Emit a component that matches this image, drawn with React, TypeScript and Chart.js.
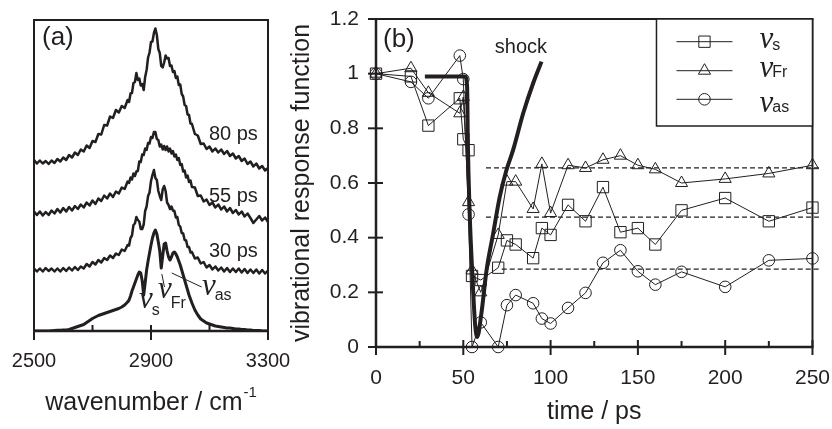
import React, { useEffect, useRef } from 'react';
import { Chart, registerables } from 'chart.js';

Chart.register(...registerables);

const INK = '#231f20';
const SANS = '"Liberation Sans", Arial, Helvetica, sans-serif';
const SERIF = '"Liberation Serif", "Times New Roman", serif';

// ---------------- Panel (a): IR spectra ----------------
const WAVENUMBERS = [
  2500, 2510, 2520, 2530, 2540, 2550, 2560, 2570, 2580, 2590, 2600,
  2610, 2620, 2630, 2640, 2650, 2660, 2670, 2680, 2690, 2700, 2710,
  2720, 2730, 2740, 2750, 2760, 2770, 2780, 2790, 2800, 2810, 2820,
  2825, 2830, 2835, 2840, 2845, 2850, 2855, 2860, 2865, 2870, 2875,
  2880, 2885, 2890, 2895, 2900, 2905, 2910, 2915, 2920, 2925, 2930,
  2935, 2940, 2945, 2950, 2955, 2960, 2965, 2970, 2975, 2980, 2985,
  2990, 2995, 3000, 3005, 3010, 3015, 3020, 3025, 3030, 3035, 3040,
  3050, 3060, 3070, 3080, 3090, 3100, 3110, 3120, 3130, 3140, 3150, 3160, 3170,
  3180, 3190, 3200, 3210, 3220, 3230, 3240, 3250, 3260, 3270, 3280, 3290, 3300,
];

const SPEC_STEADY = [
  0, 0, 0, 0, 0, 0, 0.3, 0.5, 0.7, 0.8, 1,
  1, 1.5, 2.5, 3.5, 4.5, 5.5, 6.5, 8.5, 10.5, 12.5, 14,
  15.5, 16.5, 17.5, 18.5, 19.5, 20.5, 21.5, 22.5, 24, 26, 29,
  31, 35, 40, 44, 48, 52, 56, 59, 58, 50, 36,
  48, 61, 70, 78, 86, 93, 98, 101, 97, 89, 80,
  63, 75, 87, 88, 80, 74, 71, 74, 78, 79, 77,
  74, 70, 66, 61, 56, 51, 46, 41, 36, 32, 28,
  21, 16, 12, 10, 8, 7, 6, 5, 4.5, 4, 3.5, 3, 3,
  2.5, 2, 2, 1.5, 1.5, 1, 1, 0.5, 0.5, 0.5, 0, 0, 0,
];

const SPEC_30PS = [
  2.5, -0.5, 2.5, -0.5, 3, 0, 2.5, -0.5, 2.5, -0.5, 3,
  0, 3.5, 0.5, 4, 1, 4.5, 2.5, 7, 4.5, 9, 6.5,
  11, 8.5, 13, 11, 15.5, 13, 17.5, 16, 21.5, 20, 26,
  25.5, 33, 35.5, 46, 47.5, 54, 51, 49.5, 42, 42, 46.5,
  60, 64.5, 75, 78.5, 90, 96, 101, 93, 91, 80, 75,
  71, 81.5, 85, 80, 68.5, 66, 62, 64.5, 60.5, 60, 53.5,
  54, 46, 44.5, 38, 37.5, 31, 30.5, 24, 24, 18.5, 19,
  12.5, 13.5, 7.5, 9, 3.5, 6, 1.5, 4.5, 0.5, 3.5, -0.5, 3, -1,
  2.5, -1, 2.5, -1.5, 2, -2, 1.5, -2, 1.5, -2.5, 1, -2.5, 0.5,
];

const SPEC_55PS = [
  4.5, 1, 4.5, 0.5, 4, 1, 5.5, 2.5, 7, 3.5, 8,
  4.5, 9, 5.5, 10, 7, 11.5, 8.5, 13.5, 10.5, 15.5, 12,
  17.5, 15, 20.5, 17.5, 22.5, 19, 24.5, 22.5, 28.5, 27, 34.5,
  33, 38.5, 36.5, 42.5, 40, 44.5, 45, 54.5, 54, 61.5, 61,
  67.5, 66, 73, 72.5, 79, 78, 84, 84, 77, 76, 69.5,
  71.5, 66.5, 70, 66, 69.5, 64.5, 67.5, 62.5, 65, 59.5, 61.5,
  56, 58, 51, 52, 44.5, 45.5, 38.5, 40.5, 34, 35.5, 29,
  28.5, 20, 20.5, 14.5, 16.5, 11, 13.5, 8.5, 11.5, 6.5, 9.5, 4.5, 8,
  3, 6, 1.5, 4.5, -0.5, 2.5, -2, -7, -3.5, 0, -4.5, -1.5, -6,
];

const SPEC_80PS = [
  6, 2.5, 5.5, 2.5, 5, 2, 5.5, 3, 7, 4.5, 8.5,
  6, 11, 8.5, 13.5, 11, 16.5, 14.5, 20.5, 18, 25, 24,
  32, 31.5, 41, 40.5, 49.5, 48, 56, 53.5, 60, 58, 66,
  64, 72.5, 73, 83, 84, 93, 86, 87.5, 80.5, 82, 76,
  89, 96, 108.5, 113.5, 124, 124.5, 133, 137.5, 131, 117, 113,
  100, 98.5, 103.5, 110.5, 107.5, 108, 100, 100.5, 94, 95, 88,
  89.5, 81, 81.5, 72, 69.5, 61, 60, 51.5, 51, 42.5, 42,
  32, 30.5, 22, 22.5, 17, 19.5, 14.5, 17.5, 13.5, 16.5, 12, 15, 10,
  12.5, 7.5, 10, 5, 7.5, 2, 4.5, -0.5, 2.5, -2.5, 0, -4.5, -2,
];

// vertical stacking offsets: steady, 30 ps, 55 ps, 80 ps
const SPEC_OFFSETS = [0, 60, 115, 165];
const SPEC_DELAY_LABELS = ['30 ps', '55 ps', '80 ps'];
const WN_MAJOR_TICKS = [2500, 2900, 3300];
const WN_MINOR_TICKS = [2700, 3100];

// ---------------- Panel (b): response functions ----------------
const TIMES = [0, 20, 30, 48, 50, 53, 55, 60, 70, 75, 80, 90, 95, 100, 110, 120, 130, 140, 150, 160, 175, 200, 225, 250];
const NU_S = [1.0, 0.99, 0.81, 0.91, 0.76, 0.72, 0.26, 0.245, 0.29, 0.39, 0.375, 0.325, 0.435, 0.41, 0.52, 0.46, 0.585, 0.42, 0.435, 0.375, 0.50, 0.545, 0.46, 0.51];
const NU_FR = [1.0, 1.02, 0.93, 0.855, 0.915, 0.53, 0.28, 0.20, 0.41, 0.605, 0.605, 0.505, 0.67, 0.49, 0.665, 0.655, 0.685, 0.70, 0.665, 0.65, 0.60, 0.615, 0.635, 0.665];
const NU_AS = [1.0, 0.97, 0.91, 1.066, 0.98, 0.485, 0.0, 0.09, 0.0, 0.153, 0.19, 0.16, 0.104, 0.086, 0.143, 0.198, 0.308, 0.354, 0.277, 0.228, 0.275, 0.22, 0.317, 0.324];

const SHOCK_T = [28, 51, 52.2, 52.6, 53.6, 55.3, 56.8, 58, 60.3, 63.3, 67.1, 70.9, 74.6, 78.5, 84.3, 90, 94.8];
const SHOCK_V = [0.99, 0.99, 0.95, 0.75, 0.5, 0.25, 0.08, 0.037, 0.12, 0.28, 0.415, 0.55, 0.645, 0.72, 0.855, 0.965, 1.044];

const LEVELS = [0.655, 0.475, 0.285];
const LEVEL_START = [63, 63, 72];
const LEVEL_END = 255;

const SERIES_SUBS = ['s', 'Fr', 'as'];
const SERIES_STYLES = ['rect', 'triangle', 'circle'];

// ---------------- helpers ----------------
function seg(ctx: CanvasRenderingContext2D, x1: number, y1: number, x2: number, y2: number) {
  ctx.beginPath();
  ctx.moveTo(x1, y1);
  ctx.lineTo(x2, y2);
  ctx.stroke();
}

function nuLabel(ctx: CanvasRenderingContext2D, x: number, yNu: number, sub: string, ySub: number) {
  ctx.textAlign = 'left';
  ctx.textBaseline = 'alphabetic';
  ctx.font = `italic 31px ${SERIF}`;
  ctx.fillText('ν', x, yNu);
  const w = ctx.measureText('ν').width;
  ctx.font = `16px ${SANS}`;
  ctx.fillText(sub, x + w - 1, ySub);
}

function marker(ctx: CanvasRenderingContext2D, style: string, x: number, y: number) {
  ctx.beginPath();
  if (style === 'rect') {
    const s = 8 * Math.SQRT1_2;
    ctx.rect(x - s, y - s, 2 * s, 2 * s);
  } else if (style === 'triangle') {
    const r = 7;
    for (let k = 0; k < 3; k++) {
      const ang = (k * 2 * Math.PI) / 3;
      const px = x + Math.sin(ang) * r;
      const py = y - Math.cos(ang) * r;
      if (k === 0) ctx.moveTo(px, py);
      else ctx.lineTo(px, py);
    }
    ctx.closePath();
  } else {
    ctx.arc(x, y, 5.8, 0, Math.PI * 2);
  }
  ctx.stroke();
}

// invisible tick marks: they only reserve the gap between axis line and labels
const gapGrid = (len: number) => ({
  display: true,
  drawOnChartArea: false,
  drawTicks: true,
  tickLength: len,
  color: 'rgba(0,0,0,0)',
});

const panelAPlugin = {
  id: 'panelA',
  beforeDatasetsDraw(chart: any) {
    const { ctx, chartArea: a } = chart;
    const x = chart.scales.x;
    ctx.save();
    ctx.strokeStyle = INK;
    ctx.lineWidth = 2;
    seg(ctx, a.left, a.bottom, a.left, a.top);
    seg(ctx, a.left - 1, a.top, a.right + 1, a.top);
    seg(ctx, a.right, a.top, a.right, a.bottom);
    ctx.lineWidth = 2.5;
    seg(ctx, a.left - 1, a.bottom, a.right + 1, a.bottom);
    ctx.lineWidth = 2;
    WN_MAJOR_TICKS.forEach((v) => {
      const p = x.getPixelForValue(v);
      seg(ctx, p, a.bottom - 6, p, a.bottom + 9);
    });
    WN_MINOR_TICKS.forEach((v) => {
      const p = x.getPixelForValue(v);
      seg(ctx, p, a.bottom - 6, p, a.bottom);
    });
    ctx.restore();
  },
  afterDraw(chart: any) {
    const { ctx, chartArea: a } = chart;
    const x = chart.scales.x;
    const y = chart.scales.y;
    ctx.save();
    ctx.fillStyle = INK;
    ctx.strokeStyle = INK;
    ctx.font = `26px ${SANS}`;
    ctx.textAlign = 'left';
    ctx.textBaseline = 'middle';
    ctx.fillText('(a)', a.left + 8, a.top + 18);
    ctx.font = `20px ${SANS}`;
    ctx.textBaseline = 'alphabetic';
    const labelBase = [74, 129, 191];
    SPEC_DELAY_LABELS.forEach((t, i) => {
      ctx.fillText(t, x.getPixelForValue(3098), y.getPixelForValue(labelBase[i]));
    });
    nuLabel(ctx, x.getPixelForValue(2859), y.getPixelForValue(23), 's', y.getPixelForValue(16));
    nuLabel(ctx, x.getPixelForValue(2924), y.getPixelForValue(33), 'Fr', y.getPixelForValue(23));
    nuLabel(ctx, x.getPixelForValue(3074), y.getPixelForValue(36), 'as', y.getPixelForValue(31));
    ctx.lineWidth = 1;
    seg(ctx, x.getPixelForValue(2937), y.getPixelForValue(57), x.getPixelForValue(2946), y.getPixelForValue(44));
    seg(ctx, x.getPixelForValue(2971), y.getPixelForValue(58), x.getPixelForValue(3073), y.getPixelForValue(44));
    // axis title with superscript
    ctx.textBaseline = 'alphabetic';
    ctx.font = `25px ${SANS}`;
    const main = 'wavenumber / cm';
    const mw = ctx.measureText(main).width;
    ctx.font = `15px ${SANS}`;
    const sup = '-1';
    const sw = ctx.measureText(sup).width;
    const cx = (a.left + a.right) / 2;
    const x0 = cx - (mw + sw + 1) / 2;
    ctx.font = `25px ${SANS}`;
    ctx.fillText(main, x0, 410);
    ctx.font = `15px ${SANS}`;
    ctx.fillText(sup, x0 + mw + 1, 397);
    ctx.restore();
  },
};

const panelBPlugin = {
  id: 'panelB',
  beforeDatasetsDraw(chart: any) {
    const { ctx, chartArea: a } = chart;
    const x = chart.scales.x;
    const y = chart.scales.y;
    ctx.save();
    ctx.strokeStyle = INK;
    ctx.lineWidth = 2;
    seg(ctx, a.left, a.top, a.right + 1, a.top);
    seg(ctx, a.right, a.top, a.right, a.bottom);
    ctx.lineWidth = 2.5;
    seg(ctx, a.left, a.bottom + 1, a.left, a.top - 1);
    seg(ctx, a.left - 1, a.bottom, a.right + 1, a.bottom);
    ctx.lineWidth = 2;
    for (let v = 0; v <= 250; v += 50) {
      const p = x.getPixelForValue(v);
      seg(ctx, p, a.bottom - 7, p, a.bottom + 8);
    }
    for (let v = 25; v < 250; v += 50) {
      const p = x.getPixelForValue(v);
      seg(ctx, p, a.bottom - 6, p, a.bottom);
    }
    for (let k = 0; k <= 6; k++) {
      const p = y.getPixelForValue(k * 0.2);
      seg(ctx, a.left - 8, p, a.left + 7, p);
    }
    ctx.restore();
  },
  afterDraw(chart: any) {
    const { ctx, chartArea: a } = chart;
    const x = chart.scales.x;
    const y = chart.scales.y;
    ctx.save();
    ctx.fillStyle = INK;
    ctx.strokeStyle = INK;
    ctx.font = `26px ${SANS}`;
    ctx.textAlign = 'left';
    ctx.textBaseline = 'middle';
    ctx.fillText('(b)', x.getPixelForValue(4), y.getPixelForValue(1.123));
    ctx.font = `20px ${SANS}`;
    ctx.textAlign = 'center';
    ctx.textBaseline = 'alphabetic';
    ctx.fillText('shock', x.getPixelForValue(83), y.getPixelForValue(1.075));
    // legend
    const bl = a.right - 156;
    const bt = a.top;
    const bb = a.top + 107;
    ctx.fillStyle = '#ffffff';
    ctx.fillRect(bl, bt, a.right - bl, bb - bt);
    ctx.lineWidth = 1.5;
    ctx.strokeRect(bl, bt, a.right - bl, bb - bt);
    ctx.fillStyle = INK;
    const rows = [22.7, 51.7, 80.3];
    const nuBase = [29.3, 57.7, 92.7];
    const subBase = [31, 58.3, 92.7];
    rows.forEach((r, i) => {
      const yy = bt + r;
      ctx.lineWidth = 1;
      seg(ctx, bl + 20, yy, bl + 76, yy);
      marker(ctx, SERIES_STYLES[i], bl + 48, yy);
      nuLabel(ctx, bl + 103, bt + nuBase[i], SERIES_SUBS[i], bt + subBase[i]);
    });
    ctx.restore();
  },
};

export default function App() {
  const refA = useRef<HTMLCanvasElement>(null);
  const refB = useRef<HTMLCanvasElement>(null);

  useEffect(() => {
    const specSets = [SPEC_STEADY, SPEC_30PS, SPEC_55PS, SPEC_80PS];
    const chartA = new Chart(refA.current as HTMLCanvasElement, {
      type: 'line',
      data: {
        datasets: specSets.map((s, i) => ({
          data: WAVENUMBERS.map((w, k) => ({ x: w, y: s[k] + SPEC_OFFSETS[i] })),
          borderColor: INK,
          borderWidth: i === 0 ? 3 : 2.5,
          pointRadius: 0,
          tension: 0,
          borderJoinStyle: 'round',
          fill: false,
        })),
      },
      options: {
        animation: false,
        responsive: false,
        devicePixelRatio: 1,
        layout: { padding: { left: 34, right: 27, top: 20, bottom: 0 } },
        plugins: { legend: { display: false }, tooltip: { enabled: false } },
        scales: {
          x: {
            type: 'linear',
            min: 2500,
            max: 3300,
            grid: gapGrid(16),
            border: { display: false },
            ticks: {
              stepSize: 400,
              padding: 2,
              color: INK,
              font: { size: 20, family: SANS },
              maxRotation: 0,
              autoSkip: false,
              callback: (v: any) => String(v),
            },
            afterFit: (s: any) => {
              s.height = 98;
            },
          },
          y: { type: 'linear', display: false, min: 0, max: 311 },
        },
      } as any,
      plugins: [panelAPlugin],
    });

    const series = [NU_S, NU_FR, NU_AS];
    const datasetsB: any[] = series.map((vals, i) => ({
      data: TIMES.map((t, k) => ({ x: t, y: vals[k] })),
      borderColor: INK,
      borderWidth: 1,
      pointStyle: SERIES_STYLES[i],
      pointRadius: i === 0 ? 8 : i === 1 ? 7 : 5.8,
      pointBorderColor: INK,
      pointBorderWidth: 1,
      pointBackgroundColor: 'rgba(0,0,0,0)',
      tension: 0,
      clip: false,
    }));
    datasetsB.push({
      data: SHOCK_T.map((t, k) => ({ x: t, y: SHOCK_V[k] })),
      borderColor: INK,
      borderWidth: 4,
      pointRadius: 0,
      cubicInterpolationMode: 'monotone',
      clip: false,
    });
    LEVELS.forEach((lv, i) => {
      datasetsB.push({
        data: [
          { x: LEVEL_START[i], y: lv },
          { x: LEVEL_END, y: lv },
        ],
        borderColor: INK,
        borderWidth: 1.2,
        borderDash: [5, 3],
        pointRadius: 0,
        clip: false,
      });
    });

    const chartB = new Chart(refB.current as HTMLCanvasElement, {
      type: 'line',
      data: { datasets: datasetsB },
      options: {
        animation: false,
        responsive: false,
        devicePixelRatio: 1,
        layout: { padding: { left: 0, right: 19, top: 19, bottom: 0 } },
        plugins: { legend: { display: false }, tooltip: { enabled: false } },
        scales: {
          x: {
            type: 'linear',
            min: 0,
            max: 250,
            grid: gapGrid(17),
            border: { display: false },
            ticks: {
              stepSize: 50,
              padding: 2,
              color: INK,
              font: { size: 21, family: SANS },
              maxRotation: 0,
              autoSkip: false,
              callback: (v: any) => String(v),
            },
            title: {
              display: true,
              text: 'time / ps',
              color: INK,
              font: { size: 25, family: SANS },
              padding: { top: 0, bottom: 2 },
            },
            afterFit: (s: any) => {
              s.height = 82;
            },
          },
          y: {
            type: 'linear',
            min: 0,
            max: 1.2,
            grid: gapGrid(15),
            border: { display: false },
            ticks: {
              stepSize: 0.2,
              padding: 2,
              color: INK,
              font: { size: 21, family: SANS },
              autoSkip: false,
              callback: (v: any) => String(Math.round(v * 10) / 10),
            },
            title: {
              display: true,
              text: 'vibrational response function',
              color: INK,
              font: { size: 25, family: SANS },
              padding: { top: 2, bottom: 0 },
            },
            afterFit: (s: any) => {
              s.width = 91;
            },
          },
        },
      } as any,
      plugins: [panelBPlugin],
    });

    return () => {
      chartA.destroy();
      chartB.destroy();
    };
  }, []);

  return (
    <div style={{ position: 'fixed', left: 0, top: 0, width: 832, height: 429, background: '#ffffff' }}>
      <canvas
        ref={refA}
        width={295}
        height={429}
        style={{ position: 'absolute', left: 0, top: 0, width: 295, height: 429 }}
      />
      <canvas
        ref={refB}
        width={547}
        height={429}
        style={{ position: 'absolute', left: 285, top: 0, width: 547, height: 429 }}
      />
    </div>
  );
}
